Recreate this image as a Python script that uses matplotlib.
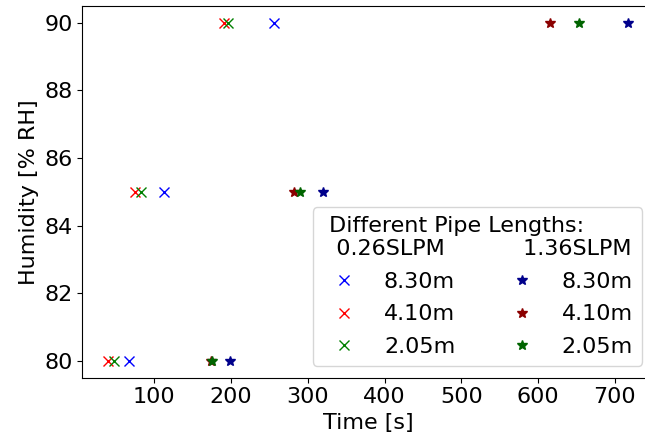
import matplotlib
matplotlib.use("Agg")
import matplotlib.pyplot as plt

# humidity steps [% RH]
humidity = [80, 85, 90]

# time to reach each humidity [s], 0.26 SLPM
t_low_830 = [67, 112, 256]
t_low_410 = [40, 75, 191]
t_low_205 = [48, 82, 196]

# time to reach each humidity [s], 1.36 SLPM
t_high_830 = [198, 320, 718]
t_high_410 = [174, 282, 616]
t_high_205 = [175, 290, 653]

lengths = ["8.30m", "4.10m", "2.05m"]

fs = 16
plt.rcParams['font.size'] = fs

fig = plt.figure(figsize=(6.45, 4.44), dpi=100)
ax = fig.add_axes([82.3/645, 66.3/444, (654.5-82.3)/645, (438-66.3)/444])

ax.plot(t_low_830, humidity, 'x', color='blue', markersize=7, label=lengths[0])
ax.plot(t_low_410, humidity, 'x', color='red', markersize=7, label=lengths[1])
ax.plot(t_low_205, humidity, 'x', color='green', markersize=7, label=lengths[2])
ax.plot(t_high_830, humidity, '*', color='darkblue', markersize=7, label=lengths[0])
ax.plot(t_high_410, humidity, '*', color='darkred', markersize=7, label=lengths[1])
ax.plot(t_high_205, humidity, '*', color='darkgreen', markersize=7, label=lengths[2])

ax.set_xlabel("Time [s]")
ax.set_ylabel("Humidity [% RH]")
ax.set_xticks([100, 200, 300, 400, 500, 600, 700])

ax.legend(title=" Different Pipe Lengths:\n  0.26SLPM" + " " * 11 + "1.36SLPM",
          ncol=2, loc='lower right', fontsize=fs, title_fontsize=fs,
          alignment='left', labelspacing=0.56,
          bbox_to_anchor=(642/645, 66.3/444 + 12/444), bbox_transform=fig.transFigure,
          borderaxespad=0)

fig.savefig("out.png", dpi=100)
